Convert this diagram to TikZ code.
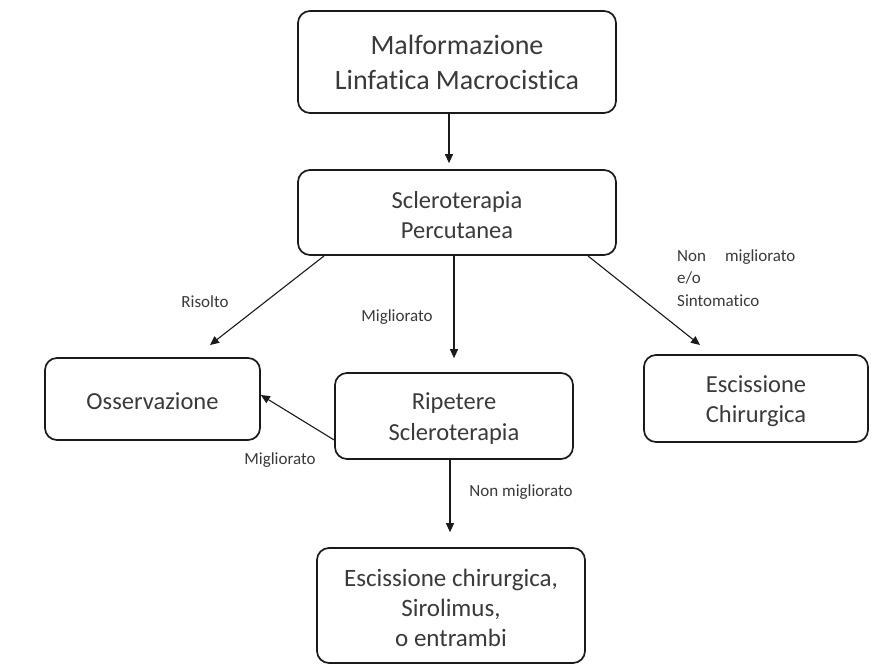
\documentclass[tikz,border=0pt]{standalone}
\usepackage{fontspec}
\setmainfont{Carlito}[Ligatures={NoCommon}]
\usetikzlibrary{arrows.meta,calc}
\definecolor{txt}{HTML}{3A3A3A}
\definecolor{edge}{HTML}{1A1A1A}
\begin{document}
\begin{tikzpicture}[x=1pt,y=-1pt,
  box/.style={draw=edge,line width=1.7pt,rounded corners=12pt,inner sep=0pt,
    align=center,text=txt,anchor=center},
  lbl/.style={text=txt,inner sep=0pt,font=\fontsize{17}{22.5}\selectfont},
  arr/.style={draw=edge,line width=1.1pt,-{Triangle[length=9pt,width=8pt]}}]
\useasboundingbox[fill=white] (0,0) rectangle (872,666);
\node[box,minimum width=318pt,minimum height=102pt,font=\fontsize{28}{35}\selectfont] (top) at (457,62) {Malformazione\\Linfatica Macrocistica};
\node[box,minimum width=318pt,minimum height=85pt,font=\fontsize{24.5}{30}\selectfont] (scler) at (457,212.5) {\rule{0pt}{22pt}Scleroterapia\\Percutanea};
\node[box,minimum width=215pt,minimum height=82pt,font=\fontsize{24.5}{30}\selectfont] (obs) at (152.5,399) {\rule{0pt}{21pt}Osservazione};
\node[box,minimum width=238pt,minimum height=86pt,font=\fontsize{24.5}{31}\selectfont] (rip) at (454,416) {\rule{0pt}{22pt}Ripetere\\Scleroterapia};
\node[box,minimum width=224pt,minimum height=87pt,font=\fontsize{24.5}{30}\selectfont] (esc) at (756,398.5) {\rule{0pt}{22pt}Escissione\\Chirurgica};
\node[box,minimum width=268pt,minimum height=115pt,font=\fontsize{25}{30}\selectfont] (bot) at (451,605.5) {\rule{0pt}{22pt}Escissione chirurgica,\\Sirolimus,\\o entrambi};
\coordinate (eobs) at (210,345);
\coordinate (eesc) at (700,345);
\draw[arr,shorten >=6pt] ([xshift=-8pt]top.south) -- ([xshift=-8pt]scler.north);
\draw[arr,shorten >=14pt] ([xshift=-3pt]scler.south) -- (rip.north);
\draw[arr] ([xshift=27pt]scler.south west) -- (eobs);
\draw[arr] ([xshift=-29pt]scler.south east) -- (eesc);
\draw[arr] ([yshift=-24pt]rip.west) -- ([yshift=4pt]obs.east);
\draw[arr,shorten >=15pt] ([xshift=-4pt]rip.south) -- ([xshift=-1pt]bot.north);
\node[lbl] (l1) at (205,302) {Risolto};
\node[lbl] (l2) at (397,317) {Migliorato};
\node[lbl] (l3) at (280,460) {Migliorato};
\node[lbl] (l4) at (521,492) {Non migliorato};
\node[lbl,align=left,anchor=west] (l5) at (677,278) {Non\hspace{19pt}migliorato\\e/o\\Sintomatico};
\end{tikzpicture}
\end{document}
